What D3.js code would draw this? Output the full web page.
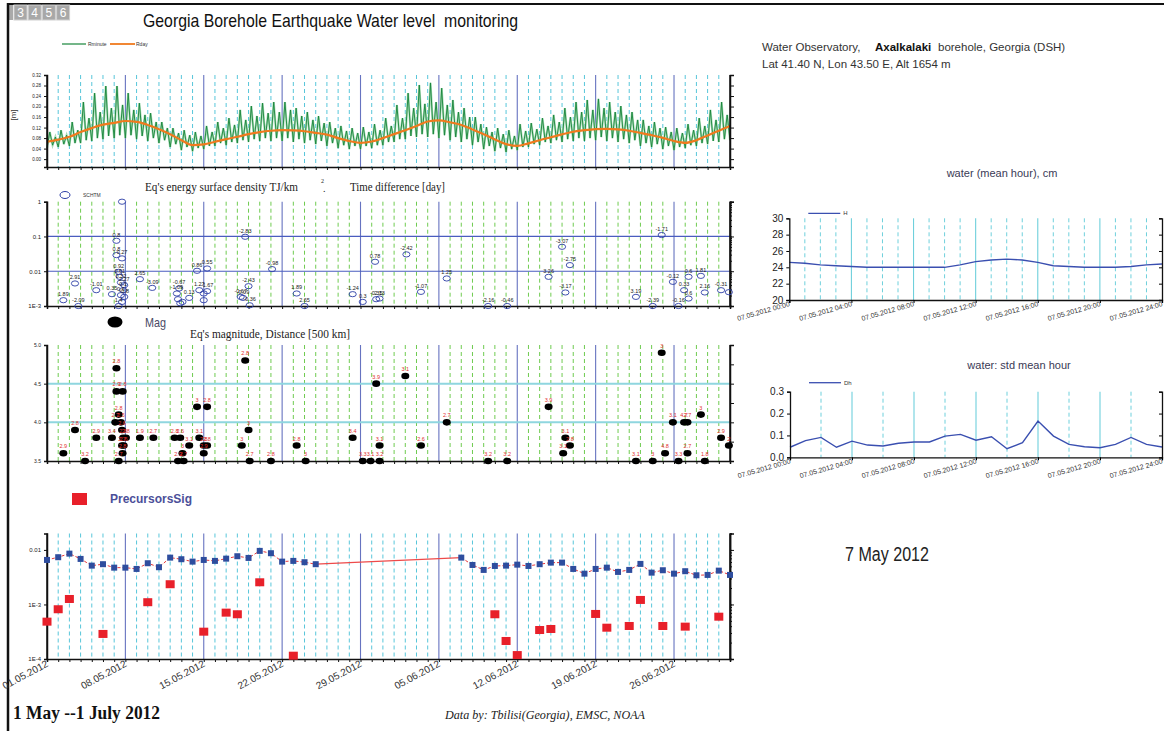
<!DOCTYPE html>
<html><head><meta charset="utf-8">
<script src="https://cdn.jsdelivr.net/npm/d3@7"></script>
<style>body{margin:0;background:#fff}svg{display:block}</style>
</head><body>
<svg id="chart" width="1164" height="731" font-family='"Liberation Sans",Arial,sans-serif'></svg>
<script>
// ---------- data ----------
// water level, 4 samples per day (00,06,12,18 h), 1 May .. 1 July 2012, metres
const rminute = [
0.042,0.103,0.053,0.084, 0.046,0.110,0.057,0.091, 0.050,0.141,0.061,0.110, 0.061,0.217,0.072,0.156,
0.069,0.251,0.080,0.179, 0.076,0.278,0.088,0.194, 0.080,0.278,0.091,0.206, 0.080,0.251,0.091,0.187,
0.076,0.213,0.088,0.168, 0.069,0.175,0.080,0.141, 0.061,0.141,0.072,0.118, 0.046,0.118,0.057,0.099,
0.034,0.110,0.046,0.091, 0.030,0.103,0.042,0.088, 0.038,0.126,0.050,0.103, 0.050,0.141,0.061,0.118,
0.053,0.156,0.065,0.130, 0.061,0.187,0.072,0.149, 0.065,0.202,0.076,0.164, 0.069,0.213,0.080,0.175,
0.069,0.217,0.080,0.179, 0.069,0.217,0.080,0.187, 0.065,0.194,0.076,0.164, 0.061,0.179,0.072,0.149,
0.057,0.164,0.069,0.137, 0.050,0.141,0.061,0.118, 0.042,0.126,0.053,0.107, 0.038,0.118,0.050,0.099,
0.038,0.122,0.050,0.103, 0.042,0.133,0.053,0.110, 0.053,0.156,0.065,0.126, 0.065,0.206,0.076,0.156,
0.076,0.251,0.088,0.194, 0.084,0.282,0.095,0.210, 0.084,0.290,0.095,0.217, 0.080,0.270,0.091,0.206,
0.072,0.225,0.084,0.179, 0.065,0.194,0.076,0.160, 0.053,0.160,0.065,0.133, 0.038,0.122,0.050,0.103,
0.030,0.118,0.042,0.095, 0.027,0.110,0.038,0.088, 0.034,0.133,0.046,0.107, 0.046,0.137,0.057,0.114,
0.053,0.156,0.065,0.126, 0.061,0.168,0.072,0.141, 0.065,0.194,0.076,0.160, 0.069,0.217,0.080,0.179,
0.069,0.225,0.080,0.187, 0.072,0.229,0.084,0.194, 0.069,0.217,0.080,0.179, 0.065,0.202,0.076,0.168,
0.061,0.179,0.072,0.149, 0.050,0.149,0.061,0.126, 0.046,0.141,0.057,0.118, 0.038,0.122,0.050,0.103,
0.034,0.118,0.046,0.099, 0.042,0.133,0.053,0.110, 0.050,0.156,0.061,0.126, 0.057,0.187,0.069,0.149,
0.065,0.217,0.076,0.168, 0.072];
// daily mean water level, metres (day 0 = 1 May)
const rday = [0.066,0.074,0.085,0.103,0.118,0.131,0.138,0.145,0.142,0.130,0.114,0.095,0.072,0.053,0.056,
0.066,0.076,0.085,0.095,0.103,0.108,0.110,0.109,0.106,0.100,0.093,0.080,0.069,0.062,0.067,0.080,0.095,
0.110,0.126,0.143,0.147,0.140,0.130,0.113,0.095,0.075,0.057,0.050,0.060,0.072,0.083,0.094,0.104,0.110,
0.114,0.115,0.113,0.108,0.100,0.091,0.081,0.069,0.062,0.072,0.090,0.108,0.126];
const waterTicks = [0,0.04,0.08,0.12,0.16,0.20,0.24,0.28,0.32];

// earthquake energy surface density (TJ/km2) and time difference labels (day)
const schtmDay = [1.46,2.5,2.8,4.4,5.8,6.2,6.2,6.7,6.4,6.5,6.6,6.9,6.8,6.6,6.9,6.7,6.4,6.7,8.3,9.4,11.8,11.6,11.7,12.1,11.9,12.7,
13.4,14.3,13.6,14.3,14.0,14.0,17.7,18.0,17.3,17.5,18.1,20.1,22.3,23.0,27.3,28.2,29.4,29.3,29.7,32.1,33.4,35.7,39.4,41.1,
44.8,46.0,46.7,46.3,52.6,54.9,54.1,56.4,55.9,56.9,57.3,57.3,58.4,58.75,60.2,60.9];
const schtmVal = [0.00147,0.00445,0.001,0.00285,0.00219,0.0752,0.0291,0.0234,0.0096,0.0069,0.00475,0.00398,0.00285,0.00205,0.00183,0.00131,0.001,1,
0.00592,0.00332,0.00319,0.00229,0.00157,0.00131,0.0012,0.00171,0.0103,0.012,0.00285,0.00267,0.00229,0.00147,0.098,0.00372,0.00183,0.00171,0.00105,
0.0115,0.00229,0.001,0.00219,0.00131,0.00157,0.0187,0.00164,0.0305,0.00255,0.0062,0.001,0.001,0.0069,0.0505,0.015,0.00245,0.00183,0.11,0.001,0.001,
0.00495,0.00285,0.0069,0.00164,0.00736,0.00245,0.00285,0.0025];
const schtmLabel = ["1.89","2.91","-2.09","-1.01","0.35","0.8","0.8","0.27","0.92","0.61","0.32","2.27","0.1","0.6","-0.8","","1.4","",
"2.65","-3.09","-0.67","-1.09","","","","0.13","0.86","0.55","1.27","-1.67","","","-2.83","-2.43","-0.67","-0.09","-0.36",
"-0.98","1.89","2.65","-1.24","0.3","-0.35","0.78","2.13","-2.42","-1.07","1.25","-2.16","-0.46","3.26","-3.07","-2.75","-3.17","3.19","-1.71","-2.39","-0.16",
"-0.12","0.33","0.6","0.6","1.81","2.16","-0.31",""];
const energyTicks = [1,0.1,0.01,0.001];
const energyTickLabels = ["1","0.1","0.01","1E-3"];

// earthquake magnitude and distance labels (x500 km)
const magDay = [1.46,2.5,3.4,4.4,5.8,6.2,6.2,6.76,6.4,6.1,6.6,6.7,6.8,7.05,6.7,6.85,6.75,6.4,8.3,9.5,11.4,11.9,12.7,12.1,11.7,12.2,
13.4,14.3,13.6,14.0,14.3,14.0,17.7,18.0,17.4,18.1,20.0,22.3,23.1,27.3,28.2,28.9,29.7,29.4,29.7,32.0,33.4,35.7,39.4,41.1,
44.8,46.3,46.7,46.1,52.6,54.1,54.9,55.2,55.9,56.9,57.2,56.4,57.2,58.4,58.75,60.2,60.9];
const magVal = [3.6,3.9,3.5,3.8,3.8,4.7,4.4,4.4,4.1,4.0,4.0,3.9,3.8,3.8,3.7,3.7,3.6,3.5,3.8,3.8,3.8,3.8,3.7,3.6,3.5,3.5,
4.2,4.2,3.8,3.7,3.7,3.6,4.8,3.9,3.7,3.5,3.5,3.7,3.5,3.8,3.5,3.5,3.5,4.5,3.7,4.6,3.7,4.0,3.5,3.5,
4.2,3.8,3.7,3.6,3.5,3.5,4.9,3.6,4.0,4.0,4.0,3.5,3.6,4.1,3.5,3.8,3.7];
const magDist = ["2.9","2.8","3.2","2.9","3.4","2.8","2.9","2.8","2.8","2.7","2.5","2.6","2.8","2.8","2.7","2.6","2.8","2.7","1.9","2.7","2.8","2.6","3.1","3","2.9","2.7",
"3","2.8","3.1","2.8","2.8","2.9","2.8","3","3","2.7","2.8","2.8","3","3.4","3.3","3.1","3.2","3.9","3.1","3.1","2.6","2.7","3.2","3.2",
"3.9","3.1","2.8","3.1","3.1","3","3","4.8","3.1","4.7","2.7","3.3","2.7","3","1.8","2.9","2"];
const magTicks = [3.5,4.0,4.5,5.0];

// daily precursor signal level (null = no data)
const sigVal = [0.00655,0.00735,0.00855,0.00684,0.00515,0.00547,0.00473,0.00473,0.00448,0.0057,0.00482,0.00722,0.00675,0.0061,
0.00655,0.00629,0.00692,0.00766,0.00713,0.0096,0.0087,0.0061,0.00629,0.00595,0.00547,
null,null,null,null,null,null,null,null,null,null,null,null,
0.00722,0.0053,0.0043,0.00508,0.00515,0.00537,0.00508,0.00547,0.00585,0.00585,0.00448,0.00367,0.00448,0.00473,0.00395,
0.0043,0.00554,0.00383,0.00424,0.00367,0.00407,0.00343,0.00348,0.00417,0.00348];
const precDay = [0,1,2,5,9,11,14,16,17,19,22,40,41,42,44,45,49,50,52,53,55,57,60];
const precVal = [0.000484,0.000817,0.00126,0.000288,0.0011,0.00235,0.000317,0.000708,0.000661,0.00255,0.000115,
0.000661,0.000214,0.000118,0.00034,0.000355,0.00067,0.000375,0.000403,0.00121,0.000403,0.000392,0.000597];
const sigTicks = [0.01,0.001,0.0001];
const sigTickLabels = ["0.01","1E-3","1E-4"];
const dateLabels = ["01.05.2012","08.05.2012","15.05.2012","22.05.2012","29.05.2012","05.06.2012","12.06.2012","19.06.2012","26.06.2012"];

// 7 May 2012 hourly water level (cm) and its standard deviation
const hourH = [24.6,24.5,24.3,24.2,24.1,24.0,24.0,24.0,24.0,24.0,24.0,24.3,24.7,24.9,25.0,24.9,24.6,24.2,24.1,24.0,24.0,24.0,24.1,24.3,24.4];
const hourDh = [0.046,0.076,0.091,0.046,0.074,0.056,0.052,0.064,0.070,0.070,0.097,0.105,0.078,0.094,0.039,0.067,0.166,0.097,0.059,0.048,0.044,0.059,0.091,0.059,0.047];
const hourLabels = ["07.05.2012 00:00","07.05.2012 04:00","07.05.2012 08:00","07.05.2012 12:00","07.05.2012 16:00","07.05.2012 20:00","07.05.2012 24:00"];
const hTicks = [20,22,24,26,28,30];
const dhTicks = [0.0,0.1,0.2,0.3];

// ---------- drawing ----------
const svg = d3.select("#chart");
svg.append("rect").attr("width",1164).attr("height",731).attr("fill","#fff");

const SANS = '"Liberation Sans",Arial,sans-serif';
const SERIF = '"Liberation Serif","Times New Roman",serif';

// page frame and tabs
svg.append("line").attr("x1",8).attr("x2",1164).attr("y1",4).attr("y2",4).attr("stroke","#111").attr("stroke-width",2);
const tabs = ["3","4","5","6"];
svg.append("rect").attr("x",9).attr("y",5).attr("width",4).attr("height",15).attr("fill","#aaa");
tabs.forEach((t,i)=>{
  const tx = 14 + i*14.2;
  svg.append("rect").attr("x",tx).attr("y",5).attr("width",13).attr("height",15).attr("fill","#a8a8a8").attr("stroke","#d0d0d0");
  svg.append("text").attr("x",tx+6.5).attr("y",17).attr("text-anchor","middle").attr("font-size",12).attr("fill","#fff").text(t);
});
svg.append("line").attr("x1",8).attr("x2",8).attr("y1",3).attr("y2",731).attr("stroke","#111").attr("stroke-width",2.5);

svg.append("text").attr("x",143).attr("y",27).attr("font-size",19).attr("fill","#111").style("white-space","pre")
  .attr("textLength",375).attr("lengthAdjust","spacingAndGlyphs")
  .text("Georgia Borehole Earthquake Water level  monitoring");

const x = d3.scaleLinear().domain([0,61]).range([47,730]);
const allDays = d3.range(0,62);
const weekDays = [7,14,21,28,35,42,49,56];

function grid(top, bottom, dailyColor){
  const g = svg.append("g");
  g.selectAll("line.d").data(allDays.filter(d=>d>0 && d<61 && d%7)).join("line")
    .attr("x1",d=>x(d)).attr("x2",d=>x(d)).attr("y1",top).attr("y2",bottom)
    .attr("stroke",dailyColor).attr("stroke-width",1).attr("stroke-dasharray","4,3");
  g.selectAll("line.w").data(weekDays).join("line")
    .attr("x1",d=>x(d)).attr("x2",d=>x(d)).attr("y1",top).attr("y2",bottom)
    .attr("stroke","#6673c0").attr("stroke-width",1.1);
}
function frameAxes(y, top, bottom, leftTicks, leftFmt, fontSize, rightTicks, minorTicks){
  const g = svg.append("g");
  g.append("g").attr("transform",`translate(0,${bottom})`)
    .call(d3.axisBottom(x).tickValues(allDays).tickSize(3).tickFormat(""));
  g.append("g").attr("transform",`translate(${x(0)},0)`)
    .call(d3.axisLeft(y).tickValues(leftTicks).tickSize(3).tickFormat(leftFmt));
  g.append("g").attr("transform",`translate(${x(61)},0)`)
    .call(d3.axisRight(y).tickValues(rightTicks).tickSize(4).tickFormat(""));
  if(minorTicks) g.append("g").attr("transform",`translate(${x(61)},0)`)
    .call(d3.axisRight(y).tickValues(minorTicks).tickSize(2).tickFormat(""));
  g.selectAll(".domain").attr("stroke","#111").attr("stroke-width",1.5);
  g.selectAll(".tick line").attr("stroke","#111");
  g.selectAll("text").attr("font-size",fontSize).attr("fill","#222").attr("font-family",SANS);
  g.append("line").attr("x1",x(0)).attr("x2",x(0)).attr("y1",top).attr("y2",bottom).attr("stroke","#111").attr("stroke-width",1.5);
  g.append("line").attr("x1",x(61)).attr("x2",x(61)).attr("y1",top).attr("y2",bottom).attr("stroke","#111").attr("stroke-width",1.5);
  return g;
}

// ===== panel 1: water level =====
const y1 = d3.scaleLinear().domain([-0.03,0.32]).range([167,75]);
grid(75,167,"#58c6da");
const lineMin = d3.line().x((d,i)=>x(i/4)).y(d=>y1(d));
svg.append("path").datum(rminute).attr("d",lineMin).attr("fill","none").attr("stroke","#a9dcb7").attr("stroke-width",2.2);
svg.append("path").datum(rminute).attr("d",lineMin).attr("fill","none").attr("stroke","#17853a").attr("stroke-width",0.9);
svg.append("path").datum(rday).attr("d",d3.line().x((d,i)=>x(i)).y(d=>y1(d)).curve(d3.curveMonotoneX))
  .attr("fill","none").attr("stroke","#f07a1e").attr("stroke-width",2.2);
frameAxes(y1,75,167,waterTicks,d3.format(".2f"),4.5,waterTicks);
svg.append("text").attr("transform","translate(16,115) rotate(-90)").attr("text-anchor","middle")
  .attr("font-size",8).attr("fill","#333").text("[m]");
svg.append("line").attr("x1",62).attr("x2",86).attr("y1",44).attr("y2",44).attr("stroke","#17853a").attr("stroke-width",1.2);
svg.append("text").attr("x",88).attr("y",46).attr("font-size",5).attr("fill","#333").text("Rminute");
svg.append("line").attr("x1",110).attr("x2",135).attr("y1",44).attr("y2",44).attr("stroke","#f07a1e").attr("stroke-width",1.8);
svg.append("text").attr("x",136).attr("y",46).attr("font-size",5).attr("fill","#333").text("Rday");

// ===== panel 2: energy density =====
const y2 = d3.scaleLog().domain([0.001,1]).range([306,201.7]);
grid(201.7,306,"#6fcb50");
[0.1,0.01].forEach(v=>svg.append("line").attr("x1",x(0)).attr("x2",x(61)).attr("y1",y2(v)).attr("y2",y2(v))
  .attr("stroke","#4a5cbf").attr("stroke-width",1.2));
const minor2 = [];
[0.001,0.01,0.1].forEach(b=>d3.range(1,10).forEach(k=>minor2.push(b*k)));
frameAxes(y2,201.7,306,energyTicks,(d,i)=>energyTickLabels[i],6,energyTicks,minor2);
const e2 = svg.append("g");
schtmDay.forEach((d,i)=>{
  e2.append("ellipse").attr("cx",x(d)).attr("cy",y2(schtmVal[i])).attr("rx",3.6).attr("ry",2.6)
    .attr("fill","none").attr("stroke","#2c3ea6").attr("stroke-width",0.9);
  if(schtmLabel[i]) e2.append("text").attr("x",x(d)).attr("y",y2(schtmVal[i])-4).attr("text-anchor","middle")
    .attr("font-size",5.5).attr("fill","#222").text(schtmLabel[i]);
});
svg.append("ellipse").attr("cx",65).attr("cy",195).attr("rx",5).attr("ry",3.5).attr("fill","none").attr("stroke","#2c3ea6");
svg.append("text").attr("x",83).attr("y",197).attr("font-size",5).attr("fill","#333").text("SCHTM");
svg.append("text").attr("x",145).attr("y",191).attr("font-family",SERIF).attr("font-size",13).attr("fill","#222")
  .attr("textLength",153).attr("lengthAdjust","spacingAndGlyphs").text("Eq's energy surface density TJ/km");
svg.append("text").attr("x",321).attr("y",183).attr("font-family",SERIF).attr("font-size",6).attr("fill","#222").text("2");
svg.append("text").attr("x",323).attr("y",192).attr("font-family",SERIF).attr("font-size",10).attr("fill","#222").text(".");
svg.append("text").attr("x",350).attr("y",191).attr("font-family",SERIF).attr("font-size",13).attr("fill","#222")
  .attr("textLength",95).attr("lengthAdjust","spacingAndGlyphs").text("Time difference [day]");

// ===== panel 3: magnitude =====
const y3 = d3.scaleLinear().domain([3.5,5.0]).range([461,345]);
grid(345,461,"#6fcb50");
[4.5,4.0].forEach(v=>svg.append("line").attr("x1",x(0)).attr("x2",x(61)).attr("y1",y3(v)).attr("y2",y3(v))
  .attr("stroke","#8fd6df").attr("stroke-width",2));
frameAxes(y3,345,461,magTicks,d3.format(".1f"),5,[3.5,3.75,4.0,4.25,4.5,4.75,5.0]);
const e3 = svg.append("g");
magDay.forEach((d,i)=>{
  e3.append("ellipse").attr("cx",x(d)).attr("cy",y3(magVal[i])).attr("rx",4).attr("ry",3.3).attr("fill","#000");
  e3.append("text").attr("x",x(d)).attr("y",y3(magVal[i])-5).attr("text-anchor","middle")
    .attr("font-size",5.5).attr("fill","#e23030").text(magDist[i]);
});
svg.append("ellipse").attr("cx",115).attr("cy",322).attr("rx",7.5).attr("ry",5.5).attr("fill","#000");
svg.append("text").attr("x",145).attr("y",327).attr("font-size",13).attr("fill","#4a4a66")
  .attr("textLength",21).attr("lengthAdjust","spacingAndGlyphs").text("Mag");
svg.append("text").attr("x",190).attr("y",338).attr("font-family",SERIF).attr("font-size",13).attr("fill","#222")
  .attr("textLength",160).attr("lengthAdjust","spacingAndGlyphs").text("Eq's magnitude, Distance [500 km]");

// ===== panel 4: precursor signal =====
const y4 = d3.scaleLog().domain([0.0001,0.02]).range([659,533.5]);
grid(533.5,659,"#58c6da");
const minor4 = [];
[0.0001,0.001].forEach(b=>d3.range(1,10).forEach(k=>minor4.push(b*k)));
minor4.push(0.01,0.02);
frameAxes(y4,533.5,659,sigTicks,(d,i)=>sigTickLabels[i],6,sigTicks,minor4);
const sigPts = sigVal.map((v,i)=>({d:i,v})).filter(p=>p.v!==null);
svg.append("path").datum(sigVal.map((v,i)=>({d:i,v})))
  .attr("d",d3.line().defined(p=>p.v!==null).x(p=>x(p.d)).y(p=>y4(p.v)))
  .attr("fill","none").attr("stroke","#e8383a").attr("stroke-width",1).attr("stroke-dasharray","3,2");
// segment bridging the days without data
for(let i=1;i<sigPts.length;i++){
  if(sigPts[i].d-sigPts[i-1].d>1){
    svg.append("line").attr("x1",x(sigPts[i-1].d)).attr("y1",y4(sigPts[i-1].v))
      .attr("x2",x(sigPts[i].d)).attr("y2",y4(sigPts[i].v)).attr("stroke","#ee4a4a").attr("stroke-width",1.3);
  }
}
svg.selectAll("rect.sig").data(sigPts).join("rect").attr("class","sig")
  .attr("x",p=>x(p.d)-3).attr("y",p=>y4(p.v)-3).attr("width",6).attr("height",6).attr("fill","#2e4d9e");
svg.selectAll("rect.prec").data(precDay.map((d,i)=>({d,v:precVal[i]}))).join("rect").attr("class","prec")
  .attr("x",p=>x(p.d)-4.5).attr("y",p=>y4(p.v)-4).attr("width",9).attr("height",8).attr("fill","#e8202a");
svg.append("rect").attr("x",72).attr("y",493).attr("width",15).attr("height",12).attr("fill","#e8202a");
svg.append("text").attr("x",110).attr("y",503).attr("font-size",12).attr("font-weight","bold").attr("fill","#4b4f99").text("PrecursorsSig");
dateLabels.forEach((t,i)=>{
  svg.append("text").attr("transform",`translate(${x(i*7)+2},${666}) rotate(-28)`).attr("text-anchor","end")
    .attr("font-size",10).attr("fill","#333").text(t);
});

// ===== bottom texts =====
svg.append("text").attr("x",13).attr("y",719).attr("font-family",SERIF).attr("font-weight","bold").attr("font-size",18)
  .attr("fill","#111").attr("textLength",147).attr("lengthAdjust","spacingAndGlyphs").text("1 May --1 July 2012");
svg.append("text").attr("x",445).attr("y",719).attr("font-family",SERIF).attr("font-style","italic").attr("font-size",12)
  .attr("fill","#222").attr("textLength",200).attr("lengthAdjust","spacingAndGlyphs").text("Data by: Tbilisi(Georgia), EMSC, NOAA");

// ===== right side =====
const info = svg.append("text").attr("y",51).attr("font-size",11.5).attr("fill","#333");
info.append("tspan").attr("x",762).text("Water Observatory,");
info.append("tspan").attr("x",875).attr("font-weight","bold").attr("fill","#111").text("Axalkalaki");
info.append("tspan").attr("x",938).text("borehole, Georgia (DSH)");
svg.append("text").attr("x",762).attr("y",67.5).attr("font-size",11.5).attr("fill","#333").text("Lat 41.40 N, Lon 43.50 E, Alt 1654 m");
svg.append("text").attr("x",845).attr("y",561).attr("font-size",20).attr("fill","#222")
  .attr("textLength",84).attr("lengthAdjust","spacingAndGlyphs").text("7 May 2012");

function hourChart(vals, ticks, yDom, yTop, yBot, x0, solidEvery, dashEvery, title, titleX, titleY, legend, legY, fmt){
  const hx = d3.scaleLinear().domain([0,24]).range([x0,1162]);
  const hy = d3.scaleLinear().domain(yDom).range([yBot,yTop]);
  const g = svg.append("g");
  d3.range(1,24).forEach(h=>{
    if(h%solidEvery===0) g.append("line").attr("x1",hx(h)).attr("x2",hx(h)).attr("y1",yTop).attr("y2",yBot).attr("stroke","#6fd0dc").attr("stroke-width",1.1);
    else if(h%dashEvery===0) g.append("line").attr("x1",hx(h)).attr("x2",hx(h)).attr("y1",yTop).attr("y2",yBot)
      .attr("stroke","#6fd0dc").attr("stroke-width",1).attr("stroke-dasharray","4,3");
  });
  g.append("path").datum(vals).attr("d",d3.line().x((d,i)=>hx(i)).y(d=>hy(d)))
    .attr("fill","none").attr("stroke","#3a4fb0").attr("stroke-width",1.4);
  const ax = g.append("g");
  ax.append("g").attr("transform",`translate(${x0},0)`).call(d3.axisLeft(hy).tickValues(ticks).tickSize(3).tickFormat(fmt));
  ax.append("g").attr("transform",`translate(1162,0)`).call(d3.axisLeft(hy).tickValues(ticks).tickSize(3).tickFormat(""));
  ax.append("g").attr("transform",`translate(0,${yBot})`).call(d3.axisBottom(hx).tickValues(d3.range(0,25,4)).tickSize(3).tickFormat(""));
  ax.selectAll(".domain").attr("stroke","#111").attr("stroke-width",1.3);
  ax.selectAll("text").attr("font-size",10).attr("fill","#222").attr("font-family",SANS);
  hourLabels.forEach((t,i)=>{
    g.append("text").attr("transform",`translate(${hx(i*4)+1},${yBot+6}) rotate(-16)`).attr("text-anchor","end")
      .attr("font-size",7).attr("fill","#333").text(t);
  });
  g.append("line").attr("x1",x0+19).attr("x2",x0+51).attr("y1",legY).attr("y2",legY).attr("stroke","#3a4fb0").attr("stroke-width",1.3);
  g.append("text").attr("x",x0+54).attr("y",legY+2).attr("font-size",6).attr("fill","#333").text(legend);
  g.append("text").attr("x",titleX).attr("y",titleY).attr("text-anchor","middle").attr("font-size",11).attr("fill","#3a3a55").text(title);
}
hourChart(hourH, hTicks, [20,30], 218.3, 300, 789.3, 4, 1, "water (mean hour), cm", 1002, 177, "H", 213.3, d3.format("d"));
hourChart(hourDh, dhTicks, [0,0.3], 391.7, 457.3, 790, 4, 2, "water: std mean hour", 1019, 369, "Dh", 382.7, d3.format(".1f"));
</script>
</body></html>
